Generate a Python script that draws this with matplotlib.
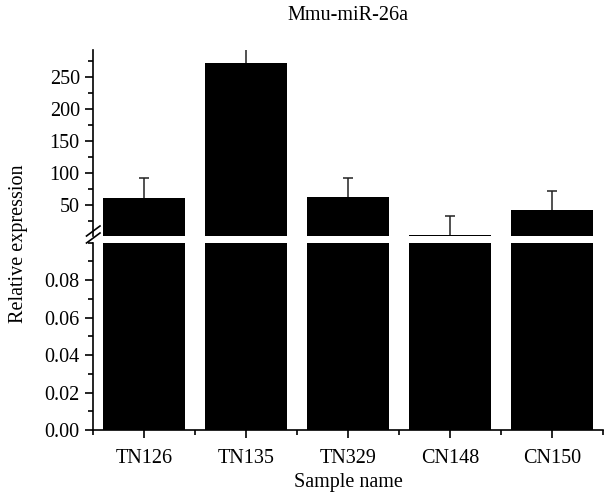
import matplotlib
matplotlib.use("Agg")
import matplotlib.pyplot as plt
from matplotlib.ticker import MultipleLocator
from matplotlib.lines import Line2D

plt.rcParams['font.family'] = ['Liberation Serif', 'DejaVu Serif']
plt.rcParams['font.size'] = 14.5

samples = ["TN126", "TN135", "TN329", "CN148", "CN150"]
expression = [60.5, 273, 63, 3, 42]
errors = [32, 30, 29, 30, 30]

fig = plt.figure(figsize=(6.07, 4.98), dpi=100)
ax_top = fig.add_axes([0.1532, 0.5267, 0.8402, 0.3729])
ax_bot = fig.add_axes([0.1532, 0.1365, 0.8402, 0.3762])

x = list(range(len(samples)))

# upper part of the broken axis
ax_top.bar(x, expression, width=0.81, color='black', zorder=2)
eb = ax_top.errorbar(x, expression, yerr=[[0] * len(errors), errors], fmt='none',
                     ecolor='#222222', elinewidth=1.1, capsize=3.5, capthick=1.1,
                     zorder=1)
eb[1][0].set_visible(False)  # no lower caps
ax_top.set_ylim(2, 293)
ax_top.set_xlim(-0.5, 4.5)
ax_top.yaxis.set_minor_locator(MultipleLocator(25))
ax_top.set_yticks([50, 100, 150, 200, 250])
for s in ['top', 'right', 'bottom']:
    ax_top.spines[s].set_visible(False)
ax_top.tick_params(axis='x', which='both', bottom=False, labelbottom=False)

# lower part
ax_bot.bar(x, expression, width=0.81, color='black')
ax_bot.set_ylim(0, 0.1)
ax_bot.set_xlim(-0.5, 4.5)
ax_bot.set_yticks([0.0, 0.02, 0.04, 0.06, 0.08])
ax_bot.set_yticklabels(["0.00", "0.02", "0.04", "0.06", "0.08"])
ax_bot.yaxis.set_minor_locator(MultipleLocator(0.01))
ax_bot.set_xticks(x)
ax_bot.set_xticklabels(samples)
ax_bot.set_xticks([-0.5, 0.5, 1.5, 2.5, 3.5, 4.5], minor=True)
for s in ['top', 'right']:
    ax_bot.spines[s].set_visible(False)
ax_bot.set_xlabel("Sample name", labelpad=3)
ax_bot.tick_params(axis='x', which='major', pad=8)

for ax in (ax_top, ax_bot):
    ax.tick_params(which='major', length=6, width=1.2, direction='out')
    ax.tick_params(which='minor', length=3.5, width=1.2, direction='out')
    for s in ax.spines.values():
        s.set_linewidth(1.2)

# break marks on the y axis
W, H = 607, 498
for dy in (0, 7):
    fig.add_artist(Line2D([86.5 / W, 100 / W],
                          [1 - (243 + dy - 7) / H, 1 - (233 + dy - 7) / H],
                          color='black', lw=1.2))

fig.text(0.5735, 1 - 15 / H, "Mmu-miR-26a", ha='center', va='center')
fig.text(0.031, 0.51, "Relative expression", rotation=90,
         ha='center', va='center')

fig.savefig("out.png", dpi=100)
